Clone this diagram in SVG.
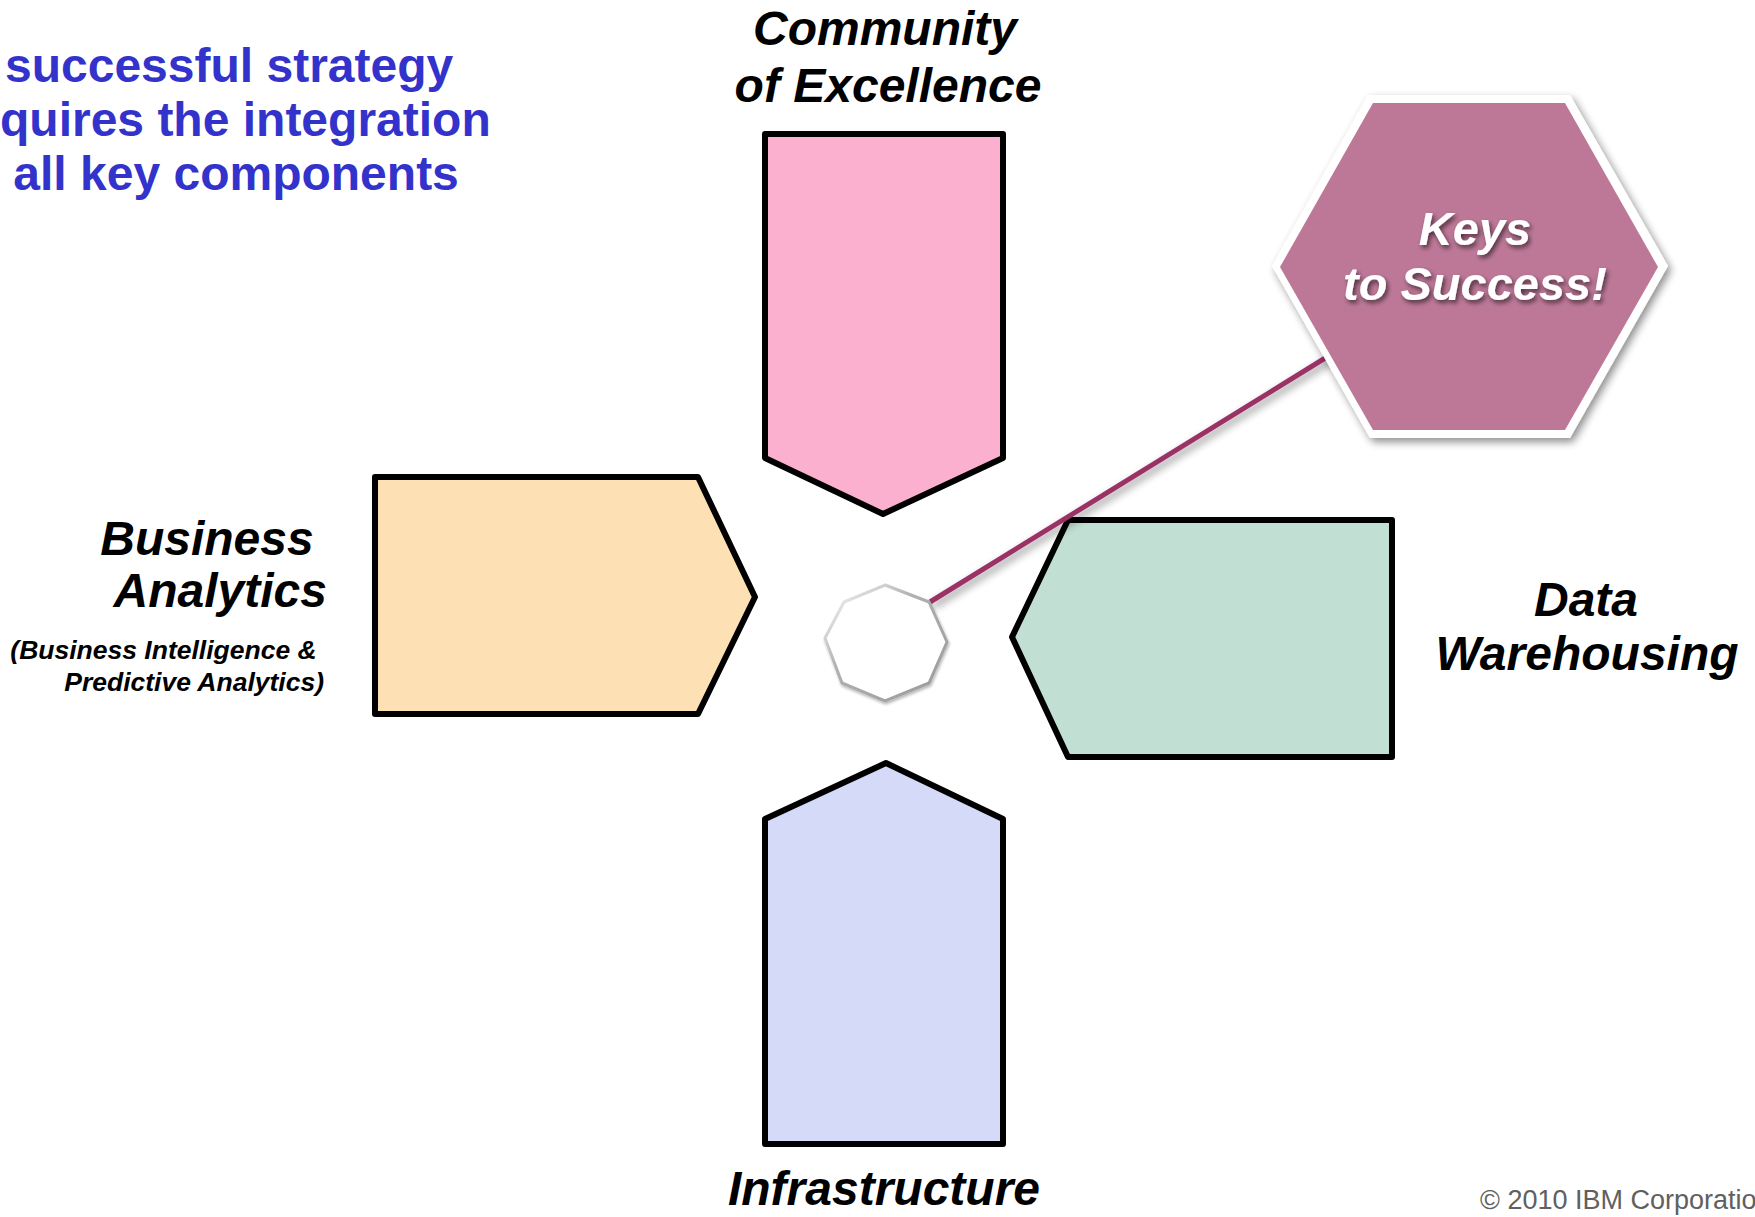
<svg xmlns="http://www.w3.org/2000/svg" width="1755" height="1217" viewBox="0 0 1755 1217">
<style>
.shape{stroke:#000;stroke-width:6;stroke-linejoin:round}
.lbl{font-family:"Liberation Sans",Arial,sans-serif;font-weight:bold;font-style:italic;fill:#000}
.head{font-family:"Liberation Sans",Arial,sans-serif;font-weight:bold;fill:#3333cc;font-size:48px}
.keys{font-family:"Liberation Sans",Arial,sans-serif;font-weight:bold;font-style:italic;fill:#fff;font-size:47px;text-anchor:middle}
.copy{font-family:"Liberation Sans",Arial,sans-serif;fill:#606060;font-size:27px}
</style>
<defs>
<filter id="sh" x="-20%" y="-20%" width="140%" height="140%">
<feGaussianBlur in="SourceAlpha" stdDeviation="4"/>
<feOffset dx="3" dy="4" result="b"/>
<feComponentTransfer><feFuncA type="linear" slope="0.45"/></feComponentTransfer>
<feMerge><feMergeNode/><feMergeNode in="SourceGraphic"/></feMerge>
</filter>
<filter id="osh" x="-20%" y="-20%" width="140%" height="140%">
<feGaussianBlur in="SourceAlpha" stdDeviation="1.5"/>
<feOffset dx="1" dy="2"/>
<feComponentTransfer><feFuncA type="linear" slope="0.3"/></feComponentTransfer>
<feMerge><feMergeNode/><feMergeNode in="SourceGraphic"/></feMerge>
</filter>
<filter id="tsh" x="-20%" y="-30%" width="140%" height="160%">
<feGaussianBlur in="SourceAlpha" stdDeviation="2.5"/>
<feOffset dx="2" dy="3"/>
<feComponentTransfer><feFuncA type="linear" slope="0.6"/></feComponentTransfer>
<feMerge><feMergeNode/><feMergeNode in="SourceGraphic"/></feMerge>
</filter>
<linearGradient id="octg" x1="0" y1="0" x2="1" y2="1">
<stop offset="0" stop-color="#ffffff"/>
<stop offset="0.4" stop-color="#b0b0b0"/>
<stop offset="1" stop-color="#9a9a9a"/>
</linearGradient>
</defs>

<rect width="1755" height="1217" fill="#fff"/>

<g id="heading">
<text class="head" x="5" y="82">successful strategy</text>
<text class="head" x="0" y="136">quires the integration</text>
<text class="head" x="0" y="190" xml:space="preserve"> all key components</text>
</g>

<g id="community">
<polygon class="shape" fill="#fcb0cf" points="765,134 1003,134 1003,458 883,514 765,458"/>
<text class="lbl" font-size="48" text-anchor="middle" x="885" y="45">Community</text>
<text class="lbl" font-size="48" text-anchor="middle" x="888" y="102">of Excellence</text>
</g>

<g id="business-analytics">
<polygon class="shape" fill="#fde0b3" points="375,477 698,477 755,597 698,714 375,714"/>
<text class="lbl" font-size="48" text-anchor="end" x="327" y="555" xml:space="preserve">Business </text>
<text class="lbl" font-size="48" text-anchor="end" x="327" y="607">Analytics</text>
<text class="lbl" font-size="26.5" text-anchor="end" x="324" y="659" xml:space="preserve">(Business Intelligence &amp; </text>
<text class="lbl" font-size="26.5" text-anchor="end" x="324" y="691">Predictive Analytics)</text>
</g>

<g id="data-warehousing">
<polygon class="shape" fill="#c2dfd3" points="1068,520 1392,520 1392,757 1068,757 1012,637"/>
<text class="lbl" font-size="48" text-anchor="middle" x="1586" y="616">Data</text>
<text class="lbl" font-size="48" text-anchor="middle" x="1587" y="670">Warehousing</text>
</g>

<g id="infrastructure">
<polygon class="shape" fill="#d6daf9" points="886,763 1003,819 1003,1144 765,1144 765,819"/>
<text class="lbl" font-size="48" text-anchor="middle" x="884" y="1205">Infrastructure</text>
</g>

<g id="connectors">
<line x1="930" y1="602" x2="1335" y2="352" stroke="#9b3366" stroke-width="5" filter="url(#sh)"/>
</g>

<g id="center">
<polygon fill="#fff" stroke="url(#octg)" stroke-width="3" filter="url(#osh)" points="885,585 929,602 947,642 929,683 885,701 842,683 825,638 844,602"/>
</g>

<g id="keys">
<polygon fill="#fff" filter="url(#sh)" points="1368,95 1570,95 1668,266 1570,438 1370,438 1272,266"/>
<polygon fill="#bd7898" points="1373,103 1565,103 1658,267 1565,430 1373,430 1280,267"/>
<g filter="url(#tsh)">
<text class="keys" x="1475" y="245">Keys</text>
<text class="keys" x="1475" y="300">to Success!</text>
</g>
</g>

<g id="footer">
<text class="copy" x="1480" y="1209">© 2010 IBM Corporatio</text>
</g>
</svg>
